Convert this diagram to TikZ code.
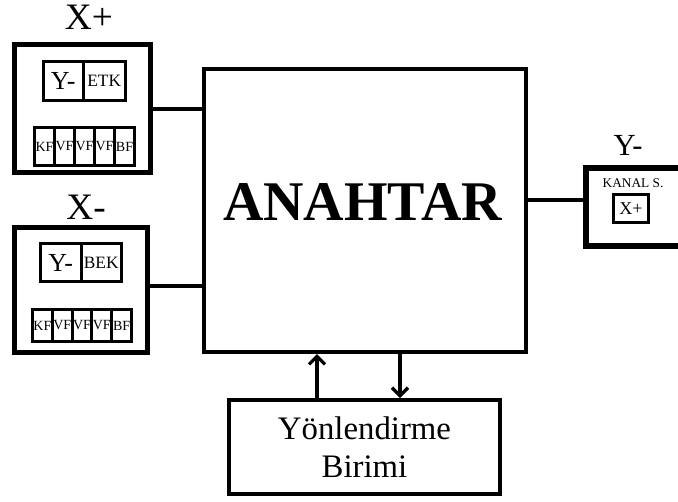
\documentclass[tikz,border=0pt]{standalone}
\usepackage{fontspec}
\setmainfont{Liberation Serif}
\usetikzlibrary{positioning,arrows.meta}
\def\pxu{0.75pt}

\begin{document}
\begin{tikzpicture}[x=0.75pt, y=-0.75pt,
  frame/.style={draw, line width=3.75pt, inner sep=0pt, outer sep=0pt, anchor=north west},
  cell/.style={draw, line width=2.25pt, inner sep=0pt, outer sep=0pt, anchor=north west},
  flit/.style={cell, font=\fontsize{10.5}{10.5}\selectfont},
  portlbl/.style={inner sep=0pt, font=\fontsize{28}{30}\selectfont},
  dirtxt/.style={font=\fontsize{19.5}{20}\selectfont},
  tagtxt/.style={font=\fontsize{13}{14}\selectfont},
  wire/.style={line width=3pt},
  arr/.style={line width=3pt, shorten >=1.5pt,
    -{Straight Barb[length=6pt, width=12pt, line width=2.5pt]}}]

% --- CANVAS (678 x 501 px, y downwards) ---
\path[use as bounding box, clip] (0,0) rectangle (678,501);

% --- SWITCH ---
\node[frame, line width=3pt, minimum width=322*\pxu, minimum height=283*\pxu]
  (anahtar) at (204,69) {};
\node[inner sep=0pt, font=\fontsize{42}{44}\selectfont\bfseries]
  (anahtartxt) at (362.5,202.5) {ANAHTAR};

% --- X+ PORT ---
\node[portlbl] (xplbl) at (89,17.5) {X+};
\node[frame, minimum width=136*\pxu, minimum height=128*\pxu]
  (xplus) at (14.5,44.5) {};
\node[cell, dirtxt, minimum width=39.5*\pxu, minimum height=39*\pxu]
  (xpdir) at (43.5,61.5) {Y-};
\node[cell, tagtxt, minimum width=42.5*\pxu, minimum height=39*\pxu,
  right=0pt of xpdir] (xptag) {ETK};
% flits
\foreach \f [count=\i] in {KF,VF,VF,VF,BF} {
  \pgfmathsetmacro\cx{34.5 + (\i-1)*20}
  \node[flit, minimum width=20*\pxu, minimum height=38*\pxu]
    (xpf\i) at (\cx,127.5) {\f};
}
\draw[wire] (xplus.east) -- (xplus.east -| anahtar.west);

% --- X- PORT ---
\node[portlbl] (xmlbl) at (86,207) {X-};
\node[frame, minimum width=133*\pxu, minimum height=125*\pxu]
  (xminus) at (14.5,227.5) {};
\node[cell, dirtxt, minimum width=40.5*\pxu, minimum height=38*\pxu]
  (xmdir) at (40.5,243.5) {Y-};
\node[cell, tagtxt, minimum width=40.5*\pxu, minimum height=38*\pxu,
  right=0pt of xmdir] (xmtag) {BEK};
% flits
\foreach \f [count=\i] in {KF,VF,VF,VF,BF} {
  \pgfmathsetmacro\cx{32.5 + (\i-1)*19.8}
  \node[flit, minimum width=19.8*\pxu, minimum height=32*\pxu]
    (xmf\i) at (\cx,309.5) {\f};
}
\draw[wire] ([yshift=3pt]xminus.east) -- ([yshift=3pt]xminus.east -| anahtar.west);

% --- Y- PORT (cut by the right edge) ---
\node[portlbl, font=\fontsize{23}{25}\selectfont] (ymlbl) at (628,145) {Y-};
\node[frame, line width=4.5pt, minimum width=100*\pxu, minimum height=78*\pxu]
  (yminus) at (586,167.5) {};
\node[inner sep=0pt, font=\fontsize{10}{10}\selectfont] (kanal) at (633,183) {KANAL S.};
\node[cell, font=\fontsize{13.5}{14}\selectfont, minimum width=35*\pxu, minimum height=28*\pxu]
  (ymch) at (613.5,194.5) {X+};
\draw[wire] ([yshift=4.9pt]yminus.west) -- ([yshift=4.9pt]yminus.west -| anahtar.east);

% --- ROUTING UNIT ---
\node[frame, line width=3pt, align=center, font=\fontsize{24.6}{28.5}\selectfont,
  minimum width=271*\pxu, minimum height=94*\pxu]
  (yon) at (229,400) {Yönlendirme\\Birimi};
\coordinate (upx) at (317,0);
\coordinate (dnx) at (400,0);
\draw[arr] (yon.north -| upx) -- (anahtar.south -| upx);
\draw[arr] (anahtar.south -| dnx) -- (yon.north -| dnx);

\end{tikzpicture}
\end{document}
